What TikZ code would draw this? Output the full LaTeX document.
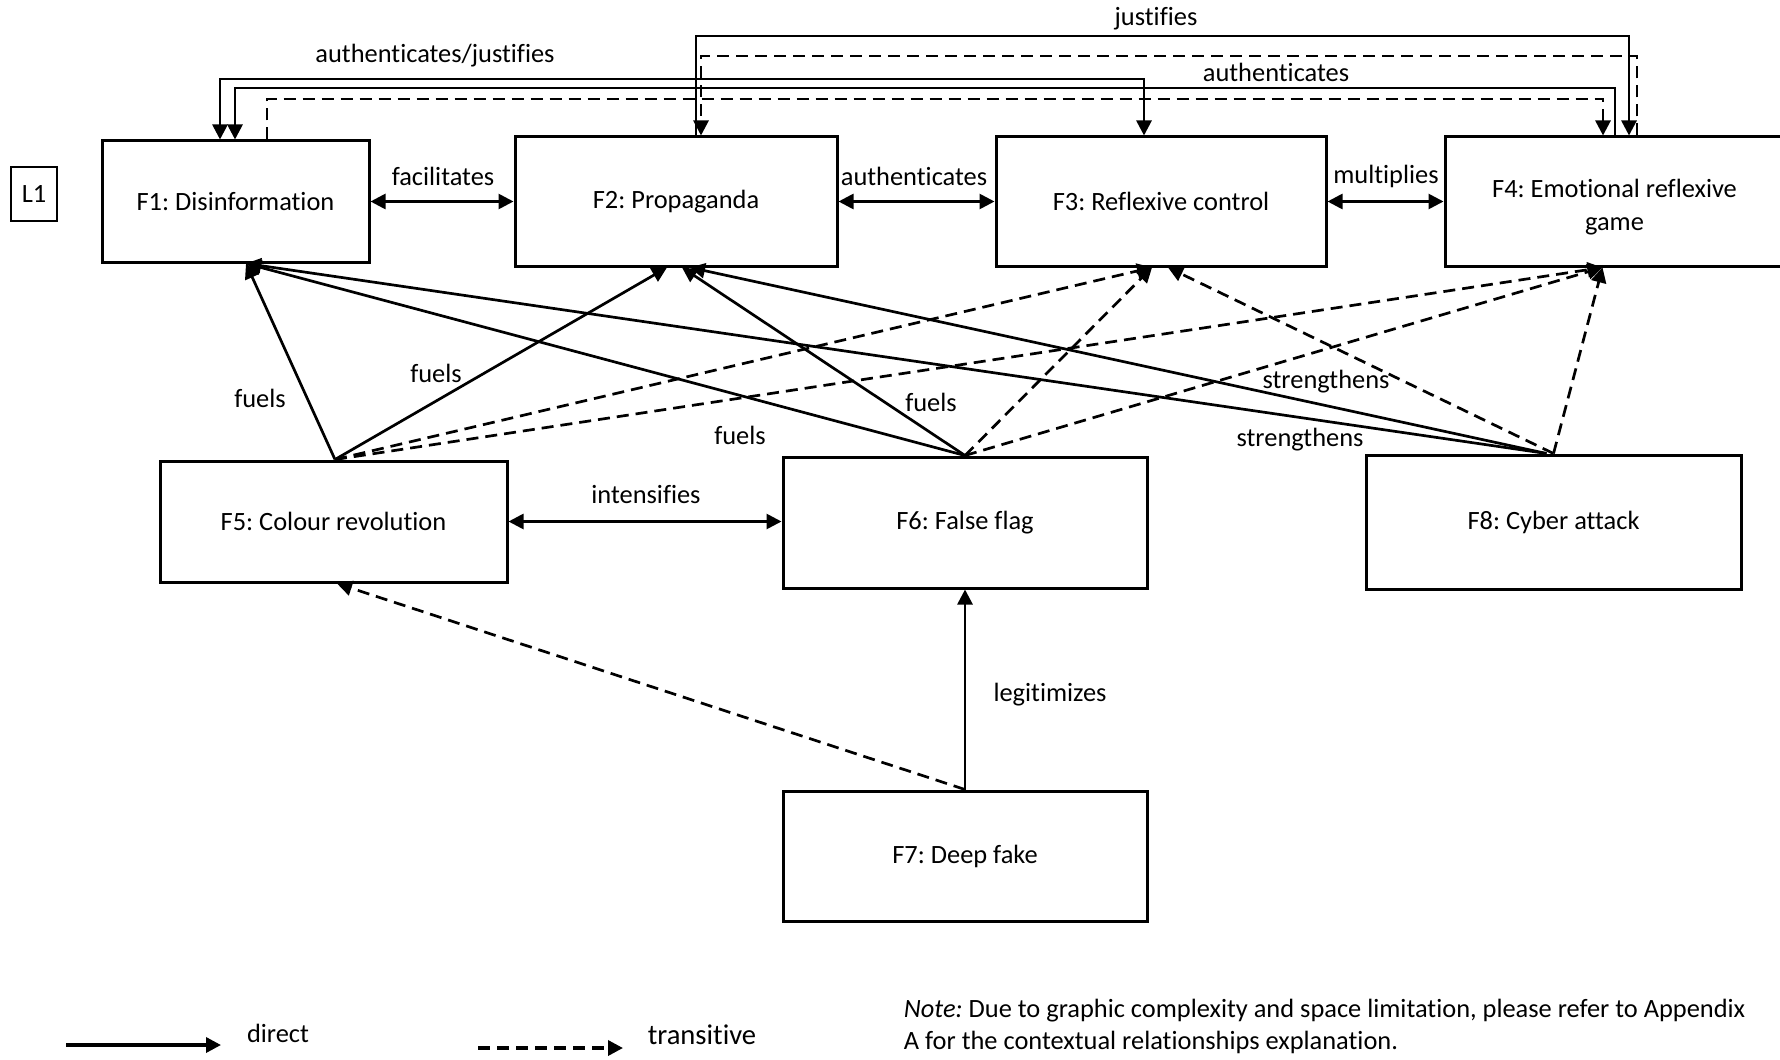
\documentclass[tikz,border=0pt]{standalone}
\usepackage{fontspec}
\setmainfont{Carlito}[Ligatures=NoCommon]
\usetikzlibrary{arrows.meta,calc}
\frenchspacing
\begin{document}
\begin{tikzpicture}[x=0.5pt,y=-0.5pt,
  font=\fontsize{13.2}{16}\selectfont,
  box/.style={draw, line width=1.5pt, inner sep=0pt, align=center},
  conn/.style={line width=1.35pt, -{Triangle[length=7.5pt,width=7.5pt]}},
  both/.style={line width=1.35pt, {Triangle[length=7.5pt,width=7.5pt]}-{Triangle[length=7.5pt,width=7.5pt]}},
  trans/.style={conn, dash pattern=on 6pt off 3.5pt},
  lbl/.style={inner sep=0pt},
]
\useasboundingbox (0,0) rectangle (1780,1059);

% boxes
\node[box, minimum width=133.5pt, minimum height=60.5pt] (f1) at (235.5,201.5) {F1: Disinformation};
\node[box, minimum width=161pt, minimum height=64.5pt] (f2) at (676,201.5) {F2: Propaganda};
\node[box, minimum width=165pt, minimum height=64.5pt] (f3) at (1161,201.5) {F3: Reflexive control};
\node[box, minimum width=169.5pt, minimum height=64.5pt] (f4) at (1614.5,201.5) {\rule{0pt}{14.4pt}F4: Emotional reflexive\\[0.5pt]game};
\node[box, minimum width=173.5pt, minimum height=60.5pt] (f5) at (333.5,521.5) {F5: Colour revolution};
\node[box, minimum width=182pt, minimum height=65.5pt] (f6) at (965,522.5) {F6: False flag};
\node[box, minimum width=182pt, minimum height=65pt] (f7) at (965,856) {F7: Deep fake};
\node[box, minimum width=187.5pt, minimum height=67pt] (f8) at (1553.5,522) {F8: Cyber attack};
\node[draw, line width=0.6pt, minimum width=23pt, minimum height=27pt, inner sep=0pt] (l1) at (34,194) {L1};

% levels of the top connectors
\coordinate (y36) at (0,36);
\coordinate (y56) at (0,56);
\coordinate (y79) at (0,79);
\coordinate (y88) at (0,88);
\coordinate (y99) at (0,99);

% top connectors
\coordinate (p1a) at ($(f1.north)+(-15.5,0)$);
\coordinate (p3a) at ($(f3.north)+(-17,0)$);
\draw[both] (p1a) -- (p1a |- y79) -- (p3a |- y79) -- (p3a);

\coordinate (p4b) at ($(f4.north)+(0.5,0)$);
\coordinate (p1b) at ($(f1.north)+(-0.5,0)$);
\draw[conn] (p4b) -- (p4b |- y88) -- (p1b |- y88) -- (p1b);

\coordinate (p1c) at ($(f1.north)+(31.5,0)$);
\coordinate (p4c) at ($(f4.north)+(-11.5,0)$);
\draw[trans] (p1c) -- (p1c |- y99) -- (p4c |- y99) -- (p4c);

\coordinate (p2d) at ($(f2.north)+(20,0)$);
\coordinate (p4d) at ($(f4.north)+(14.5,0)$);
\draw[conn] (p2d) -- (p2d |- y36) -- (p4d |- y36) -- (p4d);

\coordinate (p4e) at ($(f4.north)+(22.5,0)$);
\coordinate (p2e) at ($(f2.north)+(25,0)$);
\draw[trans] (p4e) -- (p4e |- y56) -- (p2e |- y56) -- (p2e);

% horizontal and vertical connectors
\draw[both] (f1.east) -- (f2.west);
\draw[both] (f2.east) -- (f3.west);
\draw[both] (f3.east) -- (f4.west);
\draw[both] (f5.east) -- (f5.east -| f6.west);
\draw[conn] (f7.north) -- (f6.south);
\draw[trans] (f7.north) -- ($(f5.south)+(3.5,0)$);

% diagonal connectors
\coordinate (t1) at ($(f1.south)+(10.5,0)$);
\coordinate (t2a) at ($(f2.south)+(-9,0)$);
\coordinate (t2b) at ($(f2.south)+(6,0)$);
\coordinate (t2c) at ($(f2.south)+(14,0)$);
\coordinate (t3a) at ($(f3.south)+(-9,0)$);
\coordinate (t3c) at ($(f3.south)+(7,0)$);
\coordinate (t4) at ($(f4.south)+(-12,0)$);
\coordinate (s5) at ($(f5.north)+(1.5,0)$);
\coordinate (s6) at (f6.north);
\coordinate (s8) at ($(f8.north)+(-7,0)$);
\coordinate (s8d) at ($(f8.north)+(0,0)$);

\draw[conn] (s5) -- (t1);
\draw[conn] (s5) -- (t2a);
\draw[trans] (s5) -- (t3a);
\draw[trans] (s5) -- (t4);
\draw[conn] (s6) -- (t1);
\draw[conn] (s6) -- (t2b);
\draw[trans] (s6) -- (t3a);
\draw[trans] (s6) -- (t4);
\draw[conn] (s8) -- (t1);
\draw[conn] (s8) -- (t2c);
\draw[trans] (s8d) -- (t3c);
\draw[trans] (s8d) -- (t4);

% labels
\node[lbl] (lfac) at (443,176) {facilitates};
\node[lbl] (laut1) at (914,176) {authenticates};
\node[lbl] (lmul) at (1386,176) {multiplies};
\node[lbl] (laj) at (435,56) {authenticates/justifies};
\node[lbl] (ljus) at (1156,19) {justifies};
\node[lbl] (laut2) at (1276,72) {authenticates};
\node[lbl] (lf1) at (260,398) {fuels};
\node[lbl] (lf2) at (436,373) {fuels};
\node[lbl] (lf3) at (740,435) {fuels};
\node[lbl] (lf4) at (931,402) {fuels};
\node[lbl] (ls1) at (1326,382) {strengthens};
\node[lbl] (ls2) at (1300,440) {strengthens};
\node[lbl] (lint) at (646,495) {intensifies};
\node[lbl] (lleg) at (1050,695) {legitimizes};

% legend
\coordinate (lgA) at (66,1045);
\coordinate (lgB) at (221,1045);
\draw[conn, line width=1.7pt] (lgA) -- (lgB);
\node[lbl] (ldir) at (278,1033) {direct};
\coordinate (lgC) at (478,1048);
\coordinate (lgD) at (623,1048);
\draw[trans, line width=1.7pt] (lgC) -- (lgD);
\node[lbl, font=\fontsize{14.3}{17}\selectfont] (ltr) at (702,1035) {transitive};
\node[lbl, anchor=west, align=left, font=\fontsize{13.2}{16}\selectfont] (note) at (903.5,1026)
  {\textit{Note:} Due to graphic complexity and space limitation, please refer to Appendix\\A for the contextual relationships explanation.};
\end{tikzpicture}
\end{document}
